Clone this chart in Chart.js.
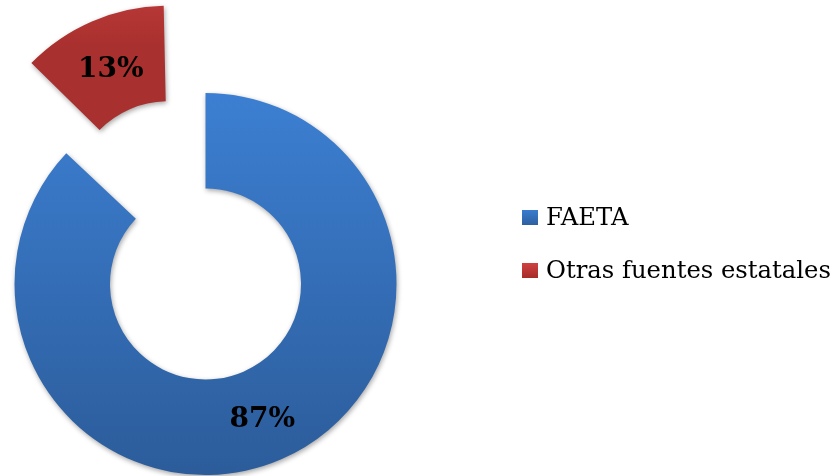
<!DOCTYPE html>
<html>
<head>
<meta charset="utf-8">
<script src="https://cdn.jsdelivr.net/npm/chart.js@4.4.1/dist/chart.umd.min.js"></script>
<style>
    html, body { margin: 0; padding: 0; background: #fff; }
    .wrap { position: relative; width: 832px; height: 476px; }
    .legend { position: absolute; left: 522px; top: 0; font-family: "DejaVu Serif", serif; font-size: 24.3px; color: #000; }
    .item { position: absolute; left: 0; white-space: nowrap; line-height: 28px; }
    .box { display: inline-block; width: 16px; height: 15px; margin-right: 8px; vertical-align: 0px; }
</style>
</head>
<body>
<div class="wrap">
    <canvas id="chart" width="832" height="476"></canvas>
    <div class="legend" id="legend"></div>
</div>
<script>
const labels = ['FAETA', 'Otras fuentes estatales'];
const values = [87, 13];
const percentLabels = ['87%', '13%'];

const blueTop = '#3c7fd2', blueBottom = '#2c5c9a';
const redTop = '#d64645', redBottom = '#a8302e';

// legend (html)
const legend = document.getElementById('legend');
const swatches = [
    'linear-gradient(#3a7cce, #2e60a0)',
    'linear-gradient(#d04140, #a52c2a)'
];
const legendTops = [203, 256];
labels.forEach((l, i) => {
    const row = document.createElement('div');
    row.className = 'item';
    row.style.top = legendTops[i] + 'px';
    row.innerHTML = '<span class="box" style="background:' + swatches[i] + '"></span>' + l;
    legend.appendChild(row);
});

function sliceGradient(context) {
    const chart = context.chart;
    const area = chart.chartArea;
    if (!area) return blueTop;
    const cy = (area.top + area.bottom) / 2;
    let grad;
    if (context.dataIndex === 0) {
        grad = chart.ctx.createLinearGradient(0, cy - 191, 0, cy + 191);
        grad.addColorStop(0, blueTop);
        grad.addColorStop(1, blueBottom);
    } else {
        grad = chart.ctx.createLinearGradient(0, cy - 280, 0, cy - 150);
        grad.addColorStop(0, redTop);
        grad.addColorStop(1, redBottom);
    }
    return grad;
}

// chart.js moves an offset arc by offset/4 but also grows its radii by
// that amount * (1 - sin(circumference)); undo the growth so the slice is only pushed out
const explodePlugin = {
    id: 'explode',
    beforeDatasetsDraw(chart) {
        const meta = chart.getDatasetMeta(0);
        meta.data.forEach(arc => {
            const off = (arc.options.offset || 0) / 4;
            if (!off || arc._grow !== undefined) return;
            const fix = 1 - Math.sin(Math.min(Math.PI, arc.circumference));
            arc._grow = off * fix;
            arc.innerRadius -= arc._grow;
            arc.outerRadius -= arc._grow;
        });
    }
};

const shadowPlugin = {
    id: 'shadow',
    beforeDatasetsDraw(chart) {
        const ctx = chart.ctx;
        ctx.save();
        ctx.shadowColor = 'rgba(0,0,0,0.35)';
        ctx.shadowBlur = 5;
        ctx.shadowOffsetX = 1;
        ctx.shadowOffsetY = 2;
    },
    afterDatasetsDraw(chart) {
        chart.ctx.restore();
    }
};

const labelPlugin = {
    id: 'sliceLabels',
    afterDraw(chart) {
        const ctx = chart.ctx;
        const meta = chart.getDatasetMeta(0);
        ctx.save();
        ctx.font = 'bold 28px "DejaVu Serif", serif';
        ctx.fillStyle = '#000';
        ctx.textAlign = 'center';
        ctx.textBaseline = 'middle';
        meta.data.forEach((arc, i) => {
            const mid = (arc.startAngle + arc.endAngle) / 2;
            const r = (arc.innerRadius + arc.outerRadius) / 2 + (arc._grow || 0) + (arc.options.offset || 0) / 4;
            ctx.fillText(percentLabels[i], arc.x + Math.cos(mid) * r, arc.y + Math.sin(mid) * r + 4);
        });
        ctx.restore();
    }
};

const ctx = document.getElementById('chart').getContext('2d');
new Chart(ctx, {
    type: 'doughnut',
    data: {
        labels: labels,
        datasets: [{
            data: values,
            backgroundColor: sliceGradient,
            borderWidth: 0,
            offset: [0, 380],
            clip: false
        }]
    },
    options: {
        responsive: false,
        animation: false,
        radius: 191,
        cutout: '50%',
        layout: { padding: { left: 0, right: 421, top: 92, bottom: 0 } },
        plugins: {
            legend: { display: false },
            tooltip: { enabled: false }
        }
    },
    plugins: [explodePlugin, shadowPlugin, labelPlugin]
});
</script>
</body>
</html>
